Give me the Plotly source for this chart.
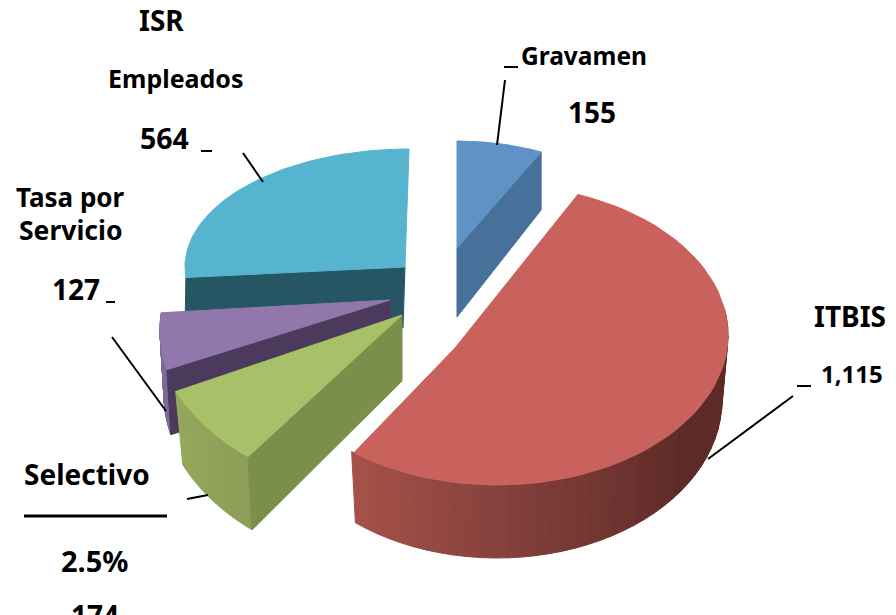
import math
import plotly.graph_objects as go

# ---- data ----
categories = ["Gravamen", "ITBIS", "Selectivo", "Tasa por Servicio", "ISR Empleados"]
values = [155, 1115, 174, 127, 564]

# ---- projection / look of each exploded slice (pixels) ----
# a: apex of top face, ab: apex of bottom face, c/r: top rim ellipse, b/br: bottom rim ellipse
STYLE = {
    "Gravamen": dict(a=(457, 248), ab=(457, 317), c=(457, 248), r=(191, 107), b=(457, 306), br=(191, 107), rot=0, st=1,
                     top="#5F93C5", inner="#47709A", outer=None, edge=1, wall=None),
    "ITBIS": dict(a=(455, 348), ab=None, c=(497, 335), r=(231, 150), b=(497, 400), br=(225, 158), rot=-7.0, st=1.052,
                  top="#C9625D", inner=None, outer=["#5E2A27", "#5E2A27", "#7F3E3A", "#A85248"], edge=0, wall=(80, 219)),
    "Selectivo": dict(a=(402, 315), ab=(402, 381), c=(402, 315), r=(250, 180), b=(400, 388), br=(240, 180), rot=22.3, st=0.914,
                      top="#A8C068", inner="#7B8F4A", outer=["#8B9E55", "#95A85C"], edge=0, wall=None),
    "Tasa por Servicio": dict(a=(390, 300), ab=(394, 365), c=(380, 330), r=(220, 160), b=(384, 395), br=(220, 160), rot=22.4, st=0.958,
                              top="#9177AC", inner="#4B3A5C", outer=["#7C6A99", "#7C6A99"], edge=0, wall=None),
    "ISR Empleados": dict(a=(405, 267), ab=(403, 328), c=(409, 267), r=(224, 118), b=(405, 328), br=(221, 118), rot=0, st=1,
                          top="#56B4CE", inner="#265663", outer=None, edge=0, wall=None),
}
DRAW_ORDER = ["ISR Empleados", "Gravamen", "Tasa por Servicio", "Selectivo", "ITBIS"]

LABELS = [
    ("ISR", 161, 20, 28), ("Empleados", 176, 78, 25), ("564", 164, 138, 28.5),
    ("Gravamen", 584, 55, 24.5), ("155", 592, 112, 28),
    ("ITBIS", 850, 316, 28), ("1,115", 852, 373, 24),
    ("Tasa por", 70, 197, 26), ("Servicio", 70, 230, 26.5), ("127", 76, 289, 28),
    ("Selectivo", 87, 474, 28), ("2.5%", 94, 560, 29), ("174", 95, 615, 28),
]
LEADERS = [
    ((504, 67), (518, 67), 2), ((505, 80), (497, 145), 2),
    ((201, 151), (212, 151), 2), ((243, 153), (263, 182), 2),
    ((106, 302), (115, 302), 2), ((112, 337), (166, 411), 2),
    ((24, 516), (167, 516), 3), ((187, 499), (208, 495), 2),
    ((797, 386), (811, 386), 2), ((793, 396), (708, 459), 2),
]


def mix(colors, t):
    t = max(0.0, min(1.0, t)) * (len(colors) - 1)
    i = min(int(t), len(colors) - 2)
    f = t - i
    p = [int(colors[i][k:k + 2], 16) for k in (1, 3, 5)]
    q = [int(colors[i + 1][k:k + 2], 16) for k in (1, 3, 5)]
    return "#%02x%02x%02x" % tuple(round(p[j] + (q[j] - p[j]) * f) for j in range(3))


def ell(c, r, phi):
    p = math.radians(phi)
    return c[0] + r[0] * math.sin(p), c[1] - r[1] * math.cos(p)


fig = go.Figure()


def poly(pts, color, name):
    fig.add_trace(go.Scatter(
        x=[p[0] for p in pts] + [pts[0][0]], y=[p[1] for p in pts] + [pts[0][1]],
        mode="lines", fill="toself", fillcolor=color, line=dict(color=color, width=1),
        hoverinfo="text", text=name, showlegend=False))


total = sum(values)
spans = {}
acc = 0.0
for cat, v in zip(categories, values):
    spans[cat] = (acc, acc + v / total * 360)
    acc += v / total * 360

for cat in DRAW_ORDER:
    s = STYLE[cat]
    t0, t1 = spans[cat]
    p0, p1 = s["rot"] + s["st"] * t0, s["rot"] + s["st"] * t1
    n = 60
    phis = [p0 + (p1 - p0) * i / n for i in range(n + 1)]
    # outer wall, shaded in strips
    if s["outer"]:
        w0, w1 = s["wall"] if s["wall"] else (p0, p1)
        m = 40
        for i in range(m):
            a = w0 + (w1 - w0) * i / m
            b = w0 + (w1 - w0) * (i + 1) / m
            poly([ell(s["c"], s["r"], a), ell(s["c"], s["r"], b), ell(s["b"], s["br"], b), ell(s["b"], s["br"], a)],
                 mix(s["outer"], (i + 0.5) / m), cat)
    # wall along the cut edge that faces the viewer
    if s["inner"]:
        edge_phi = p1 if s["edge"] else p0
        poly([s["a"], ell(s["c"], s["r"], edge_phi), ell(s["b"], s["br"], edge_phi), s["ab"]], s["inner"], cat)
    # top face
    poly([s["a"]] + [ell(s["c"], s["r"], p) for p in phis], s["top"], cat)

fig.update_layout(
    width=896, height=615, margin=dict(l=0, r=0, t=0, b=0),
    paper_bgcolor="white", plot_bgcolor="white", showlegend=False,
    xaxis=dict(range=[0, 896], visible=False, fixedrange=True),
    yaxis=dict(range=[615, 0], visible=False, fixedrange=True),
)
for p, q, w in LEADERS:
    fig.add_shape(type="line", x0=p[0], y0=p[1], x1=q[0], y1=q[1], line=dict(color="black", width=w))
for txt, x, y, sz in LABELS:
    fig.add_annotation(x=x, y=y, text="<b>%s</b>" % txt, showarrow=False, xanchor="center", yanchor="middle",
                       font=dict(family="Noto Sans", size=sz, color="black"))

fig.write_html("out.html", config={"displayModeBar": False}, post_script="document.body.style.margin='0';")
